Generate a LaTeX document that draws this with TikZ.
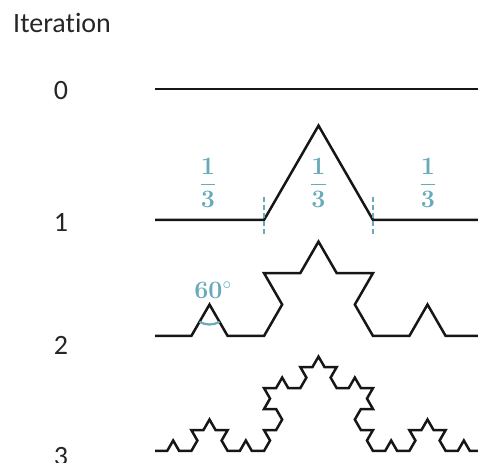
\documentclass[tikz,border=0pt]{standalone}
\usepackage{amsmath}
\usepackage{fontspec}
\newfontfamily\labfont{Carlito}[Ligatures=NoCommon]
\usetikzlibrary{lindenmayersystems}
\pgfdeclarelindenmayersystem{Koch}{\rule{F -> F+F--F+F}}
\definecolor{teal1}{RGB}{104,170,185}
\definecolor{ink}{RGB}{22,22,22}
\newcommand{\thirdfrac}{$\genfrac{}{}{1.5pt}{0}{\textbf{1}}{\textbf{3}}$}
\tikzset{
  curve/.style={draw=ink, line width=2.5pt, line join=miter},
  lab/.style={font=\labfont\fontsize{28}{32}\selectfont, text=black!85, anchor=base, inner sep=0pt},
  fracl/.style={text=teal1, font=\fontsize{25}{30}\selectfont, inner sep=0pt},
  guide/.style={draw=teal1, line width=1.4pt, dash pattern=on 5pt off 3pt},
  anglearc/.style={draw=teal1, line width=2.2pt}
}
\begin{document}
\begin{tikzpicture}[x=1pt,y=1pt]
\clip (0,0) rectangle (478,462);
\node[lab, anchor=base west] (title) at (13,429) {Iteration};
\node[lab] (n0) at (61,362) {0};
\node[lab] (n1) at (61,230) {1};
\node[lab] (n2) at (61,107) {2};
\node[lab] (n3) at (61,-3) {3};
% iteration 0
\coordinate (a0) at (155,373);
\coordinate (b0) at (482,373);
\draw[curve] (a0) -- (b0);
% iteration 1
\begin{scope}[shift={(155,242)}]
\draw[curve, lindenmayer system={Koch, axiom=F, order=1, step=109pt, angle=60}] (0,0) lindenmayer system;
\end{scope}
% iteration 2
\begin{scope}[shift={(155,126)}]
\draw[curve, lindenmayer system={Koch, axiom=F, order=2, step=36.333pt, angle=60}] (0,0) lindenmayer system;
\end{scope}
% iteration 3
\begin{scope}[shift={(155,11)}]
\draw[curve, lindenmayer system={Koch, axiom=F, order=3, step=12.111pt, angle=60}] (0,0) lindenmayer system;
\end{scope}
% guides
\coordinate (g1t) at (264,265);
\coordinate (g1b) at (264,227);
\coordinate (g2t) at (373,265);
\coordinate (g2b) at (373,227);
\draw[guide] (g1t) -- (g1b);
\draw[guide] (g2t) -- (g2b);
\node[fracl] (f1) at (208,279) {\thirdfrac};
\node[fracl] (f2) at (318.5,279) {\thirdfrac};
\node[fracl] (f3) at (428,279) {\thirdfrac};
% angle
\coordinate (pk) at (209.5,157.5);
\draw[anglearc] ([shift={(240:20)}]pk) arc[start angle=240, end angle=300, radius=20];
\node[fracl] (ang) at (213,172) {\textbf{60}$^\circ$};
\end{tikzpicture}
\end{document}
